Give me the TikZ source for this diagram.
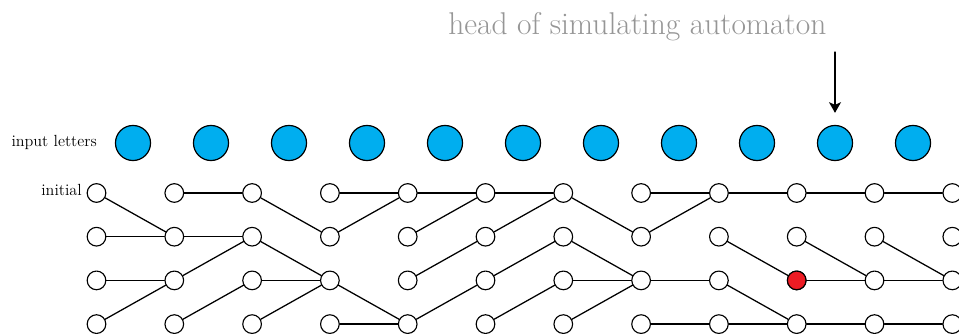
\documentclass[tikz,border=0pt]{standalone}
\usetikzlibrary{arrows.meta}
\definecolor{letterblue}{RGB}{0,174,239}
\definecolor{headred}{RGB}{237,28,36}
\definecolor{headgray}{RGB}{150,150,150}
\begin{document}
\begin{tikzpicture}[x=0.75pt, y=-0.75pt, line join=round, line cap=round,
	state/.style={circle, draw, fill=white, minimum size=14pt, inner sep=0pt, line width=0.85pt},
	letter/.style={circle, draw, fill=letterblue, minimum size=26.3pt, inner sep=0pt, line width=0.9pt},
	edge/.style={line width=0.95pt},
	lbl/.style={font=\fontsize{12.1}{14}\selectfont}]
	\def\dx{77.8} % column step
	\def\dy{43.7} % row step
	\useasboundingbox (0,0) rectangle (959,334);
	% input letters
	\foreach \k in {0,...,10}
		\node[letter] (l\k) at ({133+78*\k},143) {};
	% states of the run
	\foreach \i in {0,...,11}
		\foreach \j in {0,...,3}
			\node[state] (s\i-\j) at ({96.5+\dx*\i},{193+\dy*\j}) {};
	\node[state, fill=headred] (cur) at (s9-2) {};
	% transitions
	\foreach \a/\b/\p/\q in {0/0/1/1, 0/1/1/1, 0/2/1/2, 0/3/1/2,
		1/0/2/0, 1/1/2/1, 1/2/2/1, 1/3/2/2,
		2/0/3/1, 2/1/3/2, 2/2/3/2, 2/3/3/2,
		3/0/4/0, 3/1/4/0, 3/2/4/3, 3/3/4/3,
		4/0/5/0, 4/1/5/0, 4/2/5/1, 4/3/5/2,
		5/0/6/0, 5/1/6/0, 5/2/6/1, 5/3/6/2,
		6/0/7/1, 6/1/7/2, 6/2/7/2, 6/3/7/2,
		7/0/8/0, 7/1/8/0, 7/2/8/2, 7/3/8/3,
		8/0/9/0, 8/1/9/2, 8/2/9/3, 8/3/9/3,
		9/0/10/0, 9/1/10/2, 9/2/10/2, 9/3/10/3,
		10/0/11/0, 10/1/11/2, 10/2/11/2, 10/3/11/3}
		\draw[edge] (s\a-\b) -- (s\p-\q);
	% labels
	\node[lbl, anchor=base east, inner sep=0pt] (inp) at (97,147) {input letters};
	\node[lbl, anchor=base east, inner sep=0pt] (ini) at (82,196) {initial};
	\node[anchor=base west, inner sep=0pt, text=headgray, font=\fontsize{23.6}{28}\selectfont] (hd) at (448,35) {head of simulating automaton};
	\coordinate (ar) at (l9.north |- 0,52);
	\draw[edge, -{Stealth[length=8pt, width=9pt, inset=2pt]}, shorten >=9pt] (ar) -- (l9.north);
\end{tikzpicture}
\end{document}
